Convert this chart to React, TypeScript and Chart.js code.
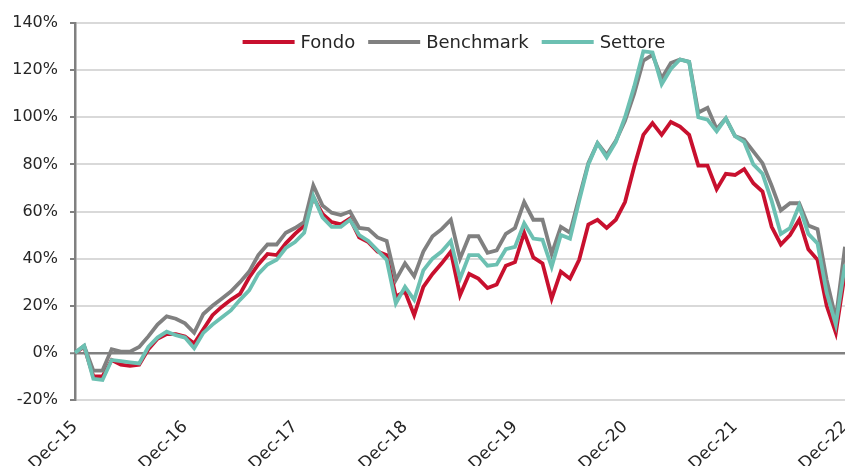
import React, { useEffect, useRef } from 'react';
import { Chart, registerables } from 'chart.js';

Chart.register(...registerables);

const categories = [
  'Dec-15',
  'Jan-16', 'Feb-16', 'Mar-16', 'Apr-16', 'May-16', 'Jun-16', 'Jul-16', 'Aug-16', 'Sep-16', 'Oct-16', 'Nov-16', 'Dec-16',
  'Jan-17', 'Feb-17', 'Mar-17', 'Apr-17', 'May-17', 'Jun-17', 'Jul-17', 'Aug-17', 'Sep-17', 'Oct-17', 'Nov-17', 'Dec-17',
  'Jan-18', 'Feb-18', 'Mar-18', 'Apr-18', 'May-18', 'Jun-18', 'Jul-18', 'Aug-18', 'Sep-18', 'Oct-18', 'Nov-18', 'Dec-18',
  'Jan-19', 'Feb-19', 'Mar-19', 'Apr-19', 'May-19', 'Jun-19', 'Jul-19', 'Aug-19', 'Sep-19', 'Oct-19', 'Nov-19', 'Dec-19',
  'Jan-20', 'Feb-20', 'Mar-20', 'Apr-20', 'May-20', 'Jun-20', 'Jul-20', 'Aug-20', 'Sep-20', 'Oct-20', 'Nov-20', 'Dec-20',
  'Jan-21', 'Feb-21', 'Mar-21', 'Apr-21', 'May-21', 'Jun-21', 'Jul-21', 'Aug-21', 'Sep-21', 'Oct-21', 'Nov-21', 'Dec-21',
  'Jan-22', 'Feb-22', 'Mar-22', 'Apr-22', 'May-22', 'Jun-22', 'Jul-22', 'Aug-22', 'Sep-22', 'Oct-22', 'Nov-22', 'Dec-22',
];

const tickLabels = ['Dec-15', 'Dec-16', 'Dec-17', 'Dec-18', 'Dec-19', 'Dec-20', 'Dec-21', 'Dec-22'];

const fondo = [
  0,
  2.5, -10, -10, -3, -5, -5.5, -5, 1.5, 6, 8, 8, 7,
  4, 10, 16, 19.5, 22.5, 25, 32, 37.5, 42, 41.5, 46.5, 50.5,
  54, 66, 59, 55.5, 54.5, 57, 49, 47, 43, 41.5, 24, 26,
  16, 28, 33.5, 38, 43, 24.5, 33.5, 31.5, 27.5, 29, 37, 38.5,
  51, 40.5, 38, 23, 34.5, 31.5, 39.5, 54.5, 56.5, 53, 56.5, 64,
  79, 92.5, 97.5, 92.5, 98, 96, 92.5, 79.5, 79.5, 69.5, 76, 75.5,
  78, 72, 68.5, 53.5, 46, 50, 56.5, 44, 39.5, 20, 8.5, 34,
];

const benchmark = [
  0,
  3, -7.5, -7.5, 1.5, 0.5, 0.5, 2.5, 7, 12, 15.5, 14.5, 12.5,
  8.5, 16.5, 20, 23, 26, 30, 34.5, 41.5, 46, 46, 51, 53,
  55.5, 71, 62.5, 59.5, 58.5, 60, 53, 52.5, 49, 47.5, 31, 38,
  32.5, 43, 49.5, 52.5, 56.5, 40, 49.5, 49.5, 42.5, 43.5, 50.5, 53,
  64, 56.5, 56.5, 42, 53.5, 51, 66, 80.5, 89, 84, 90, 98.5,
  110, 124, 126.5, 116.5, 123, 124.5, 123.5, 102, 104, 95, 99.5, 92,
  90.5, 85.5, 80.5, 71, 60.5, 63.5, 63.5, 54, 52.5, 31, 14.5, 45,
];

const settore = [
  0,
  3, -11, -11.5, -3, -3.5, -4, -4.5, 2.5, 6.5, 9, 7.5, 6.5,
  2, 8.5, 12, 15, 18, 22.5, 26.5, 33.5, 37.5, 39.5, 44.5, 47,
  51, 66.5, 57.5, 53.5, 53.5, 56.5, 50, 47.5, 43.5, 39.5, 21, 28,
  22.5, 35, 40, 43, 47.5, 31.5, 41.5, 41.5, 37, 37.5, 44, 45,
  55, 48.5, 48, 36.5, 50, 48.5, 64.5, 80, 89, 83, 89.5, 100,
  113, 128, 127.5, 114, 120.5, 124.5, 123.5, 100, 99, 94, 99.5, 92,
  89.5, 80, 76, 64.5, 50.5, 53, 62.5, 50.5, 46.5, 25.5, 12, 37.5,
];

const yTicks = [-20, 0, 20, 40, 60, 80, 100, 120, 140];

const RED = '#C8102E';
const GREY = '#808080';
const TEAL = '#6CC0B2';
const TEXT = '#262626';
const FONT = "'DejaVu Sans', sans-serif";

export default function App() {
  const ref = useRef<HTMLCanvasElement>(null);

  useEffect(() => {
    document.body.style.margin = '0';
    const legendItems = [
      { text: 'Fondo', color: RED },
      { text: 'Benchmark', color: GREY },
      { text: 'Settore', color: TEAL },
    ];
    const legendPlugin = {
      id: 'insideLegend',
      afterDatasetsDraw(chart: any) {
        const { ctx, chartArea } = chart;
        ctx.save();
        ctx.font = `18px ${FONT}`;
        const lineW = 52;
        const gap = 6;
        const itemGap = 13;
        const widths = legendItems.map((it) => ctx.measureText(it.text).width);
        const total = widths.reduce((a, w) => a + lineW + gap + w, 0) + itemGap * (legendItems.length - 1);
        const cx = (chartArea.left + chartArea.right) / 2 - 6;
        let x = cx - total / 2;
        const y = chartArea.top + 19;
        legendItems.forEach((it, i) => {
          ctx.fillStyle = it.color;
          ctx.fillRect(x, y - 2, lineW, 4);
          x += lineW + gap;
          ctx.fillStyle = TEXT;
          ctx.textBaseline = 'middle';
          ctx.textAlign = 'left';
          ctx.fillText(it.text, x, y + 1);
          x += widths[i] + itemGap;
        });
        ctx.restore();
      },
    };

    const chart = new Chart(ref.current!, {
      type: 'line',
      data: {
        labels: categories,
        datasets: [
          { label: 'Settore', data: settore, borderColor: TEAL, backgroundColor: TEAL, borderWidth: 3.8, pointRadius: 0, tension: 0 },
          { label: 'Benchmark', data: benchmark, borderColor: GREY, backgroundColor: GREY, borderWidth: 3.8, pointRadius: 0, tension: 0 },
          { label: 'Fondo', data: fondo, borderColor: RED, backgroundColor: RED, borderWidth: 3.8, pointRadius: 0, tension: 0 },
        ],
      },
      options: {
        animation: false,
        responsive: true,
        maintainAspectRatio: false,
        layout: { padding: { top: 23, right: 0, left: 0, bottom: 0 }, autoPadding: false },
        plugins: { legend: { display: false }, tooltip: { enabled: false } },
        scales: {
          x: {
            offset: false,
            grid: { display: false, drawTicks: false },
            border: { display: false },
            ticks: {
              autoSkip: false,
              minRotation: 45,
              maxRotation: 45,
              padding: 17,
              color: TEXT,
              font: { family: FONT, size: 17 },
              callback: (_v: any, i: number) => (tickLabels.includes(categories[i]) ? categories[i] : ''),
            },
            afterFit: (s: any) => {
              s.height = 66;
              s.paddingRight = 0;
              s.paddingLeft = 0;
            },
          },
          y: {
            min: -20,
            max: 140,
            afterBuildTicks: (s: any) => {
              s.ticks = yTicks.map((v) => ({ value: v }));
            },
            ticks: {
              padding: 12,
              color: TEXT,
              font: { family: FONT, size: 16 },
              callback: (v: any) => `${v}%`,
            },
            grid: {
              color: (c: any) => (c.tick && c.tick.value === 0 ? GREY : '#D9D9D9'),
              lineWidth: (c: any) => (c.tick && c.tick.value === 0 ? 2.5 : 2),
              tickColor: GREY,
              tickLength: 5,
              tickWidth: 2,
            },
            border: { color: GREY, width: 2.5 },
            afterFit: (s: any) => {
              s.width = 75;
            },
          },
        },
      },
      plugins: [legendPlugin],
    });
    return () => chart.destroy();
  }, []);

  return (
    <div style={{ width: 845, height: 466, position: 'relative' }}>
      <canvas ref={ref} />
    </div>
  );
}
